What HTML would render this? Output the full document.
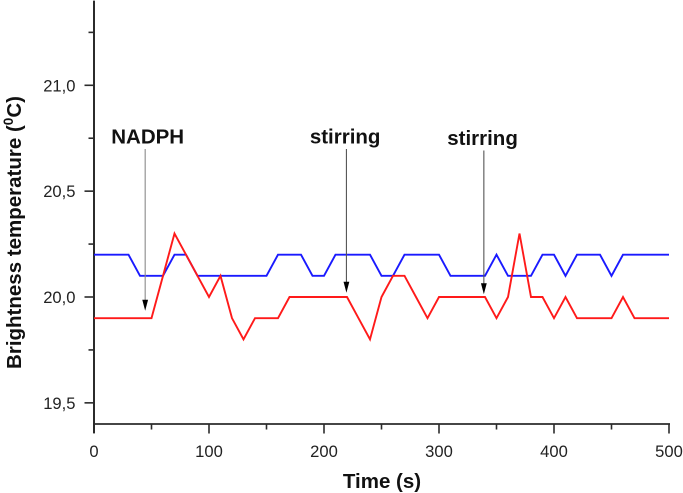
<!DOCTYPE html>
<html>
<head>
<meta charset="utf-8">
<style>
html,body{margin:0;padding:0;background:#fff;}
svg{display:block;font-family:"Liberation Sans",Arial,sans-serif;}
</style>
</head>
<body>
<svg id="chart" width="683" height="493" viewBox="0 0 683 493" xmlns="http://www.w3.org/2000/svg">
<rect width="683" height="493" fill="#fff"/>
<text transform="translate(21,232.5) rotate(-90)" text-anchor="middle" font-size="20.5" font-weight="bold" fill="#111">Brightness temperature (<tspan dy="-8" font-size="13.5">0</tspan><tspan dy="8">C)</tspan></text>
<text x="382" y="488" text-anchor="middle" font-size="20.5" font-weight="bold" fill="#111">Time (s)</text>
</svg>
<script>
const times = [0,10,20,30,40,50,60,70,80,90,100,110,120,130,140,150,160,170,180,190,200,210,220,230,240,250,260,270,280,290,300,310,320,330,340,350,360,370,380,390,400,410,420,430,440,450,460,470,480,490,500];
const blueSeries = [20.2,20.2,20.2,20.2,20.1,20.1,20.1,20.2,20.2,20.1,20.1,20.1,20.1,20.1,20.1,20.1,20.2,20.2,20.2,20.1,20.1,20.2,20.2,20.2,20.2,20.1,20.1,20.2,20.2,20.2,20.2,20.1,20.1,20.1,20.1,20.2,20.1,20.1,20.1,20.2,20.2,20.1,20.2,20.2,20.2,20.1,20.2,20.2,20.2,20.2,20.2];
const redSeries = [19.9,19.9,19.9,19.9,19.9,19.9,20.1,20.3,20.2,20.1,20.0,20.1,19.9,19.8,19.9,19.9,19.9,20.0,20.0,20.0,20.0,20.0,20.0,19.9,19.8,20.0,20.1,20.1,20.0,19.9,20.0,20.0,20.0,20.0,20.0,19.9,20.0,20.3,20.0,20.0,19.9,20.0,19.9,19.9,19.9,19.9,20.0,19.9,19.9,19.9,19.9];
const xTicks = [0,100,200,300,400,500];
const xMinorTicks = [50,150,250,350,450];
const yTicks = [19.5,20.0,20.5,21.0];
const yTickLabels = ["19,5","20,0","20,5","21,0"];
const yMinorTicks = [19.75,20.25,20.75,21.25];
const annotationLabels = ["NADPH","stirring","stirring"];
const annotationTimes = [44.5,219.5,339];
const annotationTipValues = [19.935,20.02,20.013];
const annotationTopValues = [20.699,20.699,20.692];

const svg = document.getElementById('chart');
const NS = 'http://www.w3.org/2000/svg';
const sx = v => 94 + (v / 500) * 575;
const sy = v => 297 - (v - 20) * 211.7;
function mk(tag, attrs) {
  const e = document.createElementNS(NS, tag);
  for (const k in attrs) e.setAttribute(k, attrs[k]);
  svg.appendChild(e);
  return e;
}
const AX = '#2b2b2b';

// axes
let el = mk('line', {x1: sx(0), x2: sx(0), y1: sy(21.4), y2: sy(19.4) + 9, stroke: AX, 'stroke-width': 2});


el = mk('line', {x1: sx(0) - 1, x2: sx(500) + 1, y1: sy(19.4), y2: sy(19.4), stroke: AX, 'stroke-width': 1.7});



xTicks.forEach(t => {
  const tick = mk('line', {x1: sx(t), x2: sx(t), y1: sy(19.4), y2: sy(19.4) + 9.5, stroke: AX, 'stroke-width': 1.6});
  
  
  const label = mk('text', {x: sx(t), y: 457, 'text-anchor': 'middle', 'font-size': 16.6, fill: '#222'});
  label.textContent = String(t);
  
  
});
xMinorTicks.forEach(t => {
  const tick = mk('line', {x1: sx(t), x2: sx(t), y1: sy(19.4), y2: sy(19.4) + 5.5, stroke: AX, 'stroke-width': 1.6});
  
  
});
yTicks.forEach((t, i) => {
  const tick = mk('line', {x1: sx(0) - 9.5, x2: sx(0), y1: sy(t), y2: sy(t), stroke: AX, 'stroke-width': 1.6});
  
  
  const label = mk('text', {x: 75.5, y: sy(t) + 6, 'text-anchor': 'end', 'font-size': 16.6, fill: '#222'});
  label.textContent = yTickLabels[i];
  
  
});
yMinorTicks.forEach(t => {
  const tick = mk('line', {x1: sx(0) - 5.5, x2: sx(0), y1: sy(t), y2: sy(t), stroke: AX, 'stroke-width': 1.6});
  
  
});

// series
const toPoints = vals => vals.map((v, i) => sx(times[i]) + ',' + sy(v)).join(' ');
const blueLine = mk('polyline', {points: toPoints(blueSeries), fill: 'none', stroke: '#1a1aff', 'stroke-width': 1.9, 'stroke-linejoin': 'miter'});


const redLine = mk('polyline', {points: toPoints(redSeries), fill: 'none', stroke: '#ff1a1a', 'stroke-width': 1.9, 'stroke-linejoin': 'miter'});



// annotations
annotationLabels.forEach((txt, i) => {
  const x = sx(annotationTimes[i]);
  const tip = sy(annotationTipValues[i]);
  const top = sy(annotationTopValues[i]);
  const line = mk('line', {x1: x, x2: x, y1: top, y2: tip - 8, stroke: i === 0 ? '#8a8a8a' : '#555', 'stroke-width': 1.1});
  
  
  const head = mk('polygon', {points: (x - 2.9) + ',' + (tip - 11) + ' ' + (x + 2.9) + ',' + (tip - 11) + ' ' + x + ',' + tip, fill: '#000'});
  
  
  const label = mk('text', {x: x + (i === 0 ? 2.5 : -1.3), y: top - 5.5, 'text-anchor': 'middle', 'font-size': 20.5, 'font-weight': 'bold', fill: '#111'});
  label.textContent = txt;
  
  
});
</script>
</body>
</html>
